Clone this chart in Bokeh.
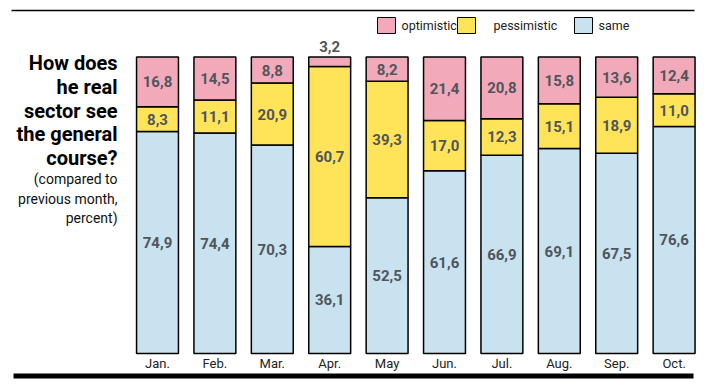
from bokeh.plotting import figure
from bokeh.models import ColumnDataSource
from bokeh.core.properties import value
from bokeh.embed import file_html
from bokeh.resources import INLINE

months = ["Jan.", "Feb.", "Mar.", "Apr.", "May", "Jun.", "Jul.", "Aug.", "Sep.", "Oct."]
same = [74.9, 74.4, 70.3, 36.1, 52.5, 61.6, 66.9, 69.1, 67.5, 76.6]
pessimistic = [8.3, 11.1, 20.9, 60.7, 39.3, 17.0, 12.3, 15.1, 18.9, 11.0]
optimistic = [16.8, 14.5, 8.8, 3.2, 8.2, 21.4, 20.8, 15.8, 13.6, 12.4]
series_names = ["same", "pessimistic", "optimistic"]
legend_labels = ["optimistic", "pessimistic", "same"]
title_lines = ["How does", "he real", "sector see", "the general", "course?"]
subtitle_lines = ["(compared to", "previous month,", "percent)"]

COLORS = {"optimistic": "#F2AABB", "pessimistic": "#FFE45A", "same": "#C9E2EF"}
LABEL_COLOR = "#50555b"
FONT = "Roboto"

W, H = 705, 391
# pixel mapping (figure px, origin top-left)
PX_PER_X = 57.4
X0 = -157 / PX_PER_X
Y_PX_ZERO = 353.0
Y_PX_100 = 56.5
U = 100.0 / (Y_PX_ZERO - Y_PX_100)
Y_TOP = 100 + Y_PX_100 * U
Y_BOT = -(H - Y_PX_ZERO) * U
X1 = X0 + W / PX_PER_X

def dx(px):
    return X0 + px / PX_PER_X

def dy(px):
    return Y_TOP - px * U

p = figure(width=W, height=H, x_range=(X0, X1), y_range=(Y_BOT, Y_TOP),
           output_backend="svg", toolbar_location=None, min_border=0,
           outline_line_color=None, background_fill_color="white")
p.axis.visible = False
p.grid.visible = False

xs = list(range(len(months)))
src = ColumnDataSource(dict(x=xs, months=months, same=same,
                            pessimistic=pessimistic, optimistic=optimistic))
p.vbar_stack(series_names, x="x", width=0.73, source=src,
             fill_color=[COLORS[s] for s in series_names],
             line_color="black", line_width=1.5)

# value labels
lx, ly, lt = [], [], []
for i in xs:
    base = 0.0
    for name, arr in zip(series_names, [same, pessimistic, optimistic]):
        v = arr[i]
        if v < 5:
            y = base + v + 3.5
        else:
            y = base + v / 2
        lx.append(i)
        ly.append(y)
        lt.append(f"{v:.1f}".replace(".", ","))
        base += v
p.text(x=lx, y=ly, text=lt, text_align="center", text_baseline="middle",
       text_font=value(FONT), text_font_style="bold", text_font_size="15px",
       text_color=LABEL_COLOR)

# month labels
p.text(x=xs, y=[dy(363)] * len(xs), text=months, text_align="center",
       text_baseline="middle", text_font=value(FONT), text_font_size="13px",
       text_color="#222222")

# top and bottom rules
p.segment(x0=[dx(11)], y0=[dy(10)], x1=[dx(694)], y1=[dy(10)],
          line_color="black", line_width=1.5)
p.segment(x0=[dx(13)], y0=[dy(375.5)], x1=[dx(693)], y1=[dy(375.5)],
          line_color="black", line_width=5)

# legend
box_px = [377, 457, 574]
text_px = [401, 493, 598]
p.rect(x=[dx(b + 9) for b in box_px], y=[dy(25)] * 3, width=18 / PX_PER_X,
       height=16 * U, fill_color=[COLORS[n] for n in legend_labels],
       line_color="black", line_width=1)
p.text(x=[dx(t) for t in text_px], y=[dy(25)] * 3, text=legend_labels,
       text_align="left", text_baseline="middle", text_font=value(FONT),
       text_font_size="12.5px", text_color="#222222")

# title block
title_y = [62, 86, 110, 133, 157]
p.text(x=[dx(117)] * len(title_lines), y=[dy(v) for v in title_y], text=title_lines,
       text_align="right", text_baseline="middle", text_font=value(FONT),
       text_font_style="bold", text_font_size="20px", text_color="black")
sub_y = [178, 198, 217]
p.text(x=[dx(117)] * len(subtitle_lines), y=[dy(v) for v in sub_y], text=subtitle_lines,
       text_align="right", text_baseline="middle", text_font=value(FONT),
       text_font_size="14px", text_color="#111111")

open("out.html", "w").write(file_html(p, INLINE))
